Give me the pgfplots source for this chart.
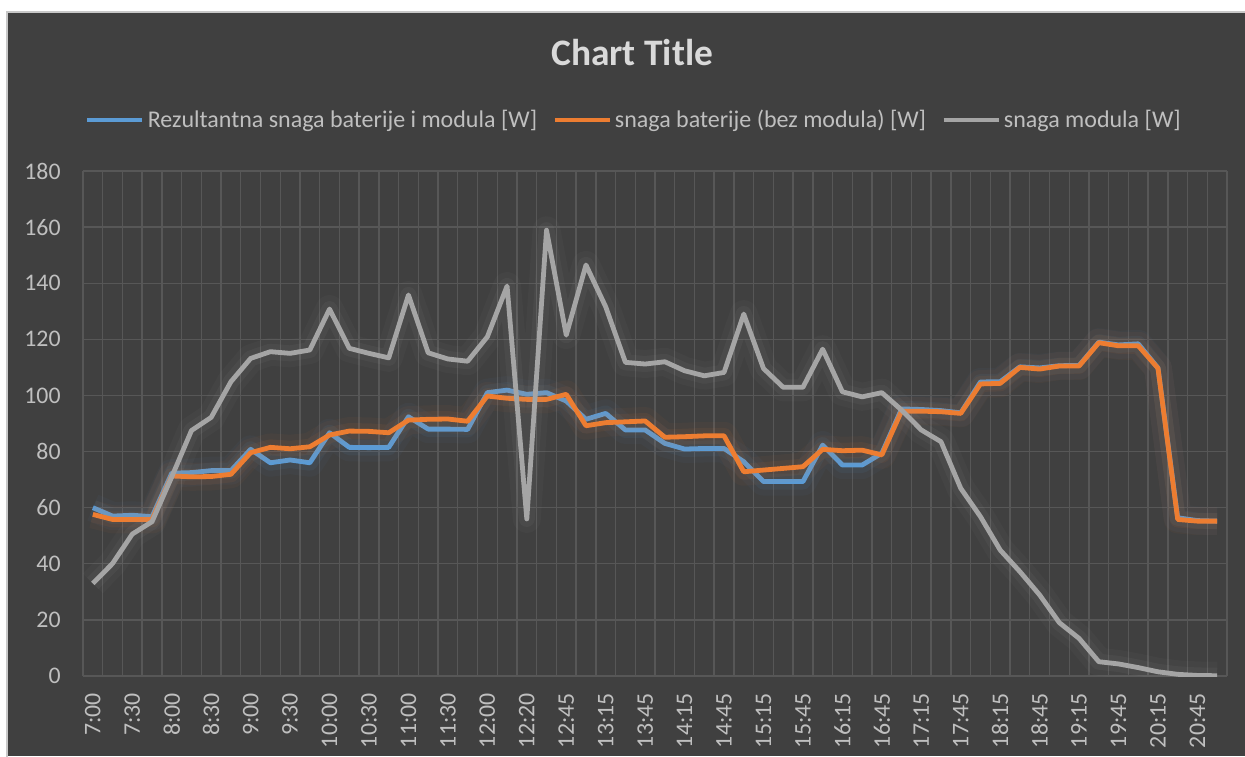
\documentclass[border=0pt]{standalone}
\usepackage{fontspec}
\setmainfont{Carlito}
\usepackage{pgfplots}
\pgfplotsset{compat=1.18}
\usepackage{pgfplotstable}
\definecolor{bgdark}{HTML}{404040}
\definecolor{framec}{HTML}{C8C8C8}
\definecolor{gridc}{HTML}{575757}
\definecolor{txt}{HTML}{BFBFBF}
\definecolor{ttl}{HTML}{D9D9D9}
\definecolor{cblue}{HTML}{5B9BD5}
\definecolor{corange}{HTML}{ED7D31}
\definecolor{cgray}{HTML}{A5A5A5}
\pgfplotstableread{
i b o g
0 60.0 57.6 33.0
1 57.0 55.8 40.1
2 57.3 55.8 50.6
3 56.8 55.8 55.0
4 72.3 71.3 71.0
5 72.5 71.0 87.5
6 73.2 71.1 92.2
7 73.2 71.9 104.9
8 80.8 79.6 113.2
9 76.0 81.5 115.6
10 77.0 81.0 115.0
11 76.0 81.7 116.2
12 86.7 85.9 130.8
13 81.5 87.3 116.8
14 81.4 87.2 115.0
15 81.5 86.7 113.4
16 92.4 91.2 135.8
17 88.0 91.5 115.2
18 88.0 91.6 113.0
19 87.9 90.8 112.2
20 101.0 99.8 120.9
21 101.9 99.0 139.0
22 100.4 98.6 56.0
23 101.0 98.6 158.9
24 98.0 100.4 121.5
25 91.5 89.2 146.5
26 93.6 90.3 131.6
27 87.7 90.6 111.8
28 87.7 90.9 111.2
29 82.9 85.1 112.0
30 80.9 85.3 108.8
31 81.1 85.6 107.0
32 81.1 85.6 108.2
33 76.4 72.8 129.0
34 69.3 73.4 109.6
35 69.3 74.0 102.9
36 69.3 74.6 102.9
37 82.3 80.8 116.5
38 75.2 80.3 101.3
39 75.2 80.5 99.5
40 79.4 78.8 101.0
41 95.2 94.4 94.8
42 95.0 94.4 87.7
43 94.6 94.2 83.5
44 93.8 93.6 66.9
45 104.8 104.1 56.8
46 104.9 104.3 44.9
47 110.2 110.0 37.2
48 109.8 109.4 28.9
49 110.6 110.5 19.0
50 110.7 110.5 13.4
51 119.0 118.8 5.1
52 118.0 117.7 4.3
53 118.4 117.7 3.0
54 109.8 109.7 1.5
55 56.4 55.8 0.6
56 55.4 55.2 0.2
57 55.2 55.2 0.1
}\data
\begin{document}
\begin{tikzpicture}
\useasboundingbox (0,0) rectangle (622.5pt,378pt);
\fill[white] (0,0) rectangle (622.5pt,378pt);
\fill[bgdark] (3.5pt,0) rectangle (622.5pt,372pt);
\draw[framec, line width=0.9pt] (3.5pt,-1pt) -- (3.5pt,372pt) -- (624pt,372pt);
\begin{axis}[
  at={(41.5pt,40pt)}, anchor=south west,
  scale only axis, width=572pt, height=252.5pt,
  xmin=-0.5, xmax=57.5, ymin=0, ymax=180,
  axis line style={draw=none},
  major tick length=0pt, minor tick length=0pt,
  ytick={0,20,...,180},
  xtick={0,2,...,56},
  xticklabels={7:00,7:30,8:00,8:30,9:00,9:30,10:00,10:30,11:00,11:30,12:00,12:20,12:45,13:15,13:45,14:15,14:45,15:15,15:45,16:15,16:45,17:15,17:45,18:15,18:45,19:15,19:45,20:15,20:45},
  minor xtick={-0.5,0.5,...,57.5},
  xminorgrids=true, ymajorgrids=true, xmajorgrids=false,
  minor x grid style={gridc, line width=0.7pt},
  major y grid style={gridc, line width=0.7pt},
  tick label style={text=txt, font=\fontsize{11.9}{14}\selectfont},
  /pgf/number format/assume math mode=true,
  xticklabel style={rotate=90, anchor=east, inner sep=0pt},
  xticklabel shift=8.5pt,
  yticklabel style={inner sep=0pt},
  yticklabel shift=11pt,
  title={Chart Title},
  title style={at={(0.48,1.186)}, anchor=base, text=ttl, font=\fontsize{18.7}{21}\selectfont\bfseries},
  legend columns=3,
  legend style={at={(0.482,1.101)}, anchor=center, draw=none, fill=none, text=txt,
    font=\fontsize{12}{14}\selectfont,
    nodes={inner sep=1.5pt},
    /tikz/every even column/.append style={column sep=6pt}},
  legend image code/.code={\draw[#1, line width=2.4pt] (0pt,0pt) -- (27.5pt,0pt);},
  glowA/.style={forget plot, line width=14pt, opacity=0.045, line join=round},
  glowB/.style={forget plot, line width=8pt, opacity=0.07, line join=round},
  main/.style={line width=2.4pt, line join=round},
]
\addplot[glowA, cblue] table[x=i,y=b] {\data};
\addplot[glowB, cblue] table[x=i,y=b] {\data};
\addplot[main, cblue] table[x=i,y=b] {\data};
\addlegendentry{Rezultantna snaga baterije i modula [W]}
\addplot[glowA, corange] table[x=i,y=o] {\data};
\addplot[glowB, corange] table[x=i,y=o] {\data};
\addplot[main, corange] table[x=i,y=o] {\data};
\addlegendentry{snaga baterije (bez modula) [W]}
\addplot[glowA, cgray] table[x=i,y=g] {\data};
\addplot[glowB, cgray] table[x=i,y=g] {\data};
\addplot[main, cgray] table[x=i,y=g] {\data};
\addlegendentry{snaga modula [W]}
\end{axis}
\end{tikzpicture}
\end{document}
